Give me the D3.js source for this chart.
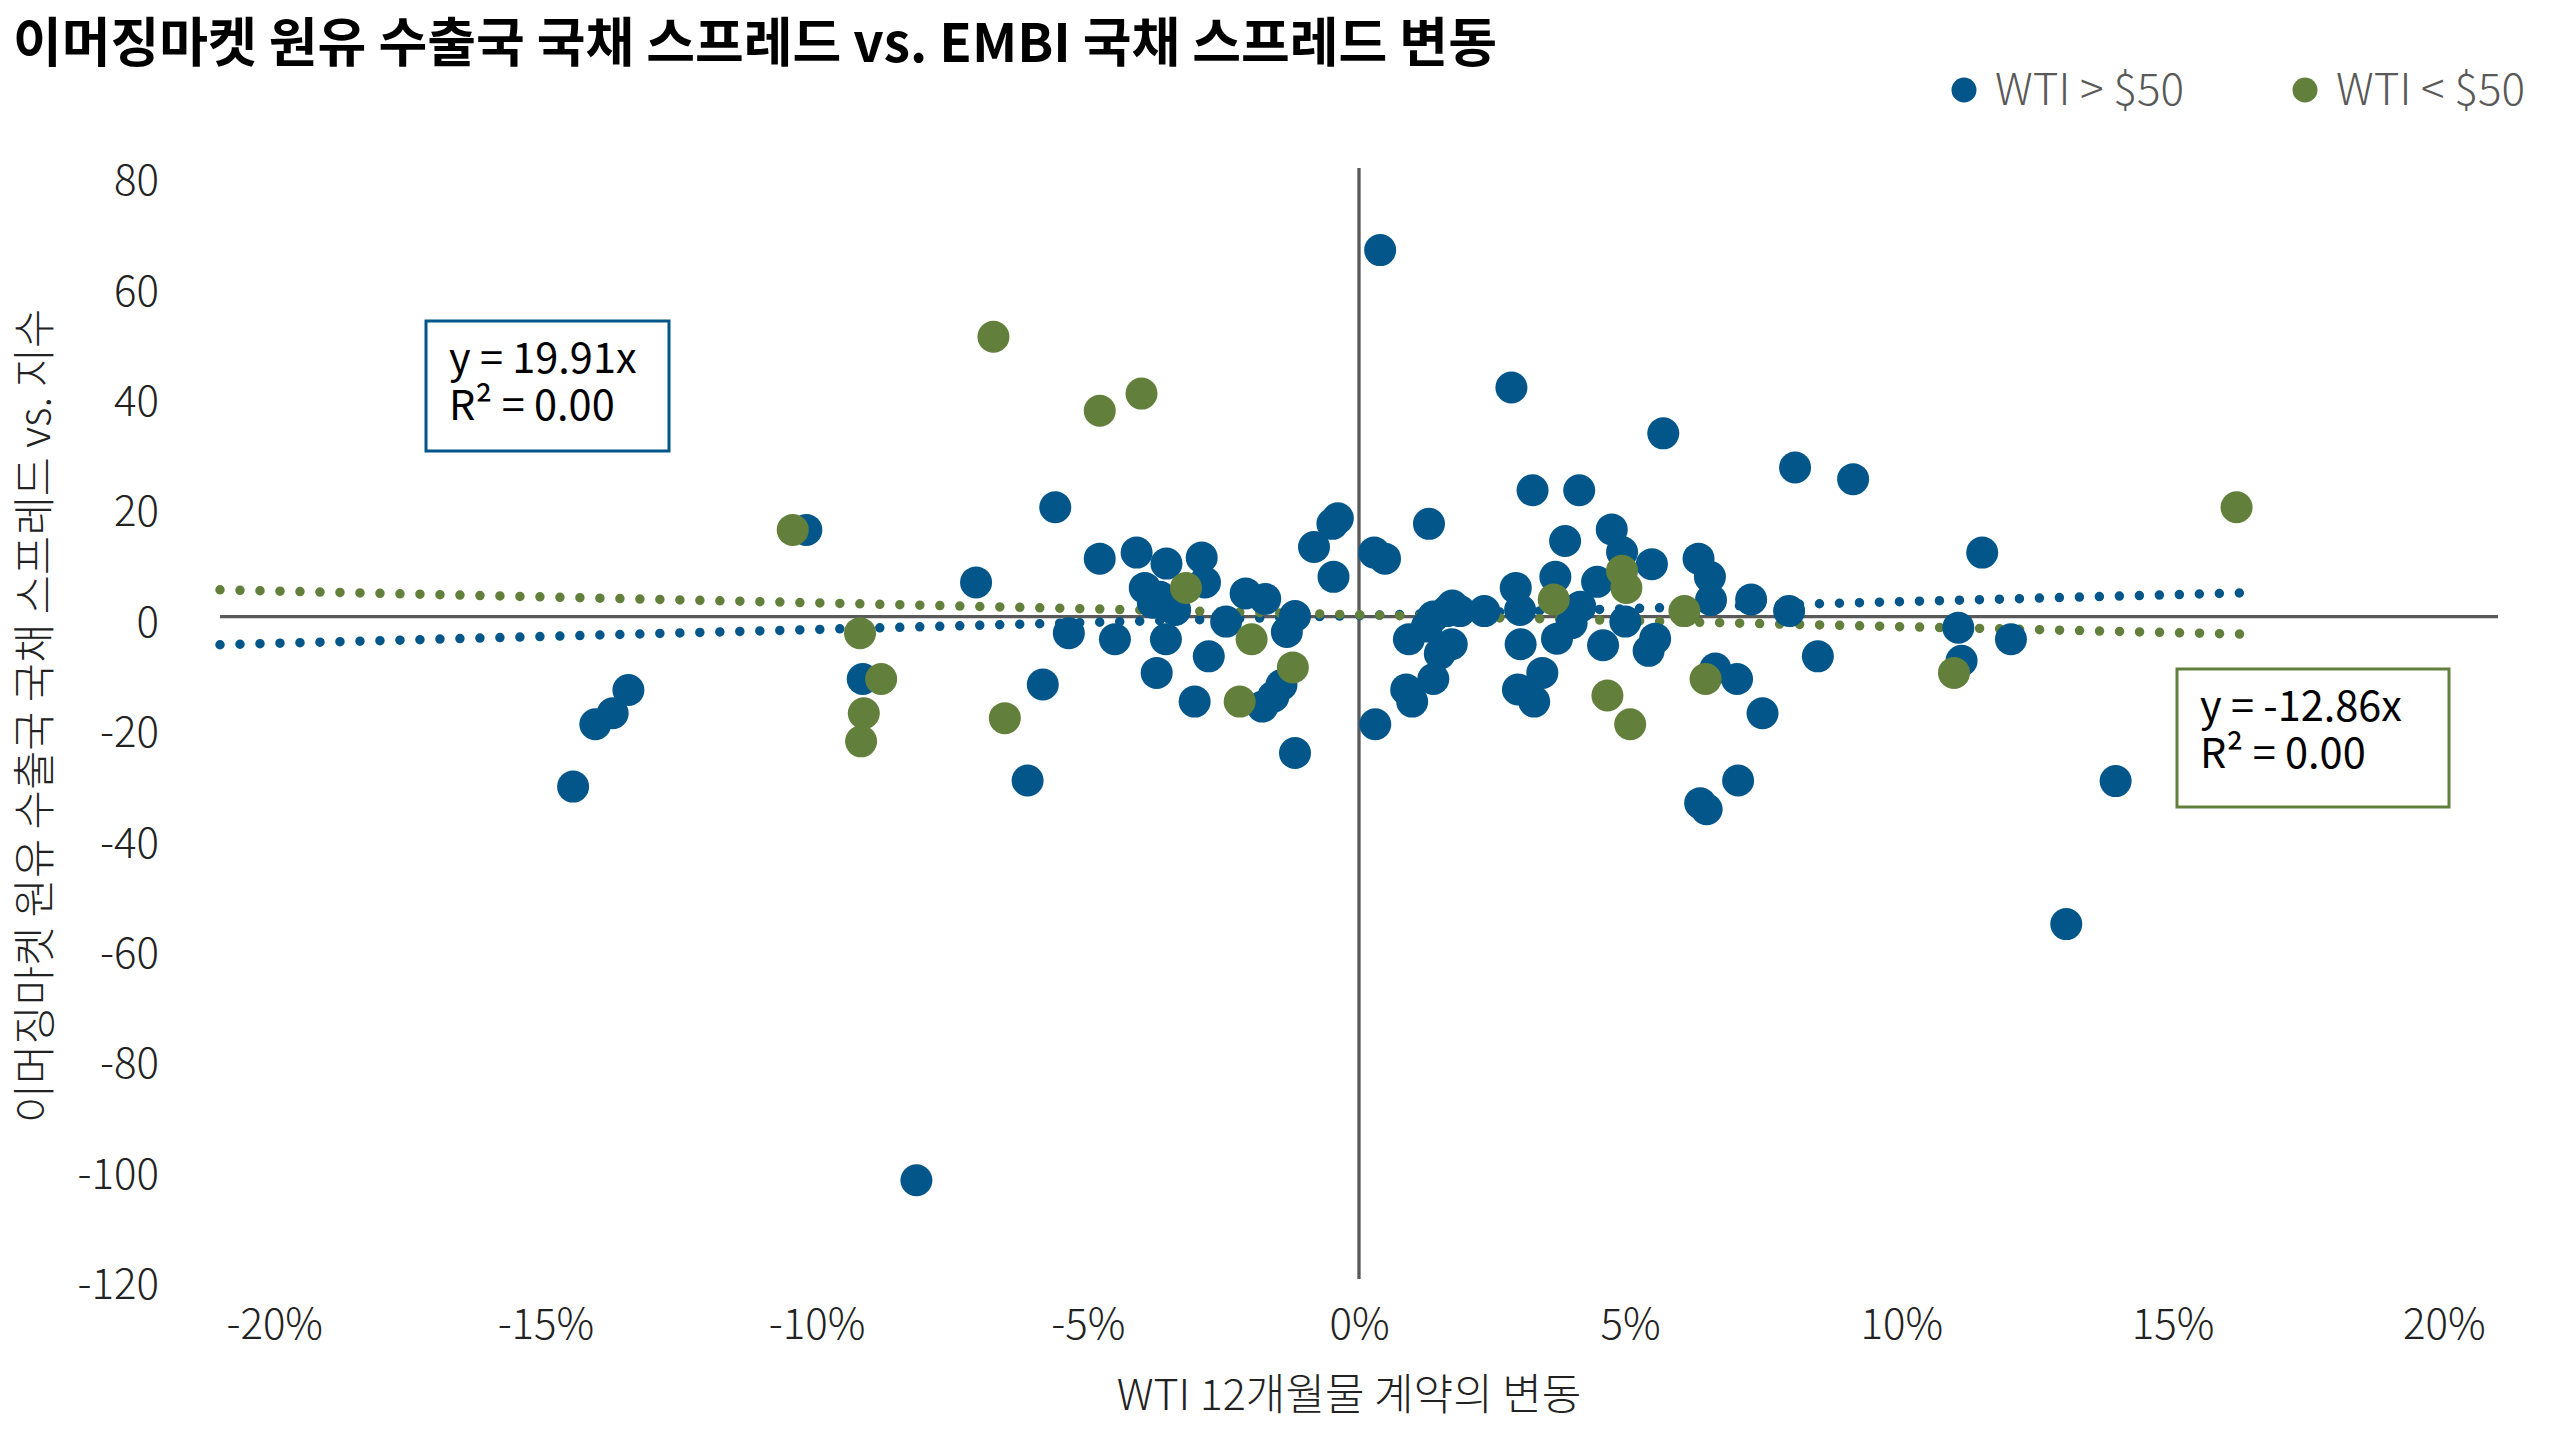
<!DOCTYPE html>
<html>
<head>
<meta charset="utf-8">
<script src="https://cdn.jsdelivr.net/npm/d3@7"></script>
<style>
  body { margin: 0; background: #fff; }
  svg { display: block; font-family: "Noto Sans CJK KR", "Noto Sans", sans-serif; }
</style>
</head>
<body>
<svg id="chart" width="2560" height="1440"></svg>
<script>
// WTI 12m change (%) vs spread change, WTI > $50
const bluePoints = [
  [-10.19, 15.7], [-5.6, 19.8], [-4.78, 10.5], [-4.10, 11.6], [-3.95, 5.2], [-7.06, 6.2],
  [-9.15, -11.3], [-5.35, -3.0], [-4.5, -4.1], [-5.83, -12.3], [-6.11, -29.7], [-3.73, -10.2],
  [3.20, 22.9], [4.06, 22.9], [1.29, 16.8], [3.80, 13.7], [-0.39, 17.8], [-0.49, 16.8],
  [-0.83, 12.6], [-0.47, 7.2], [0.28, 11.6], [0.48, 10.5], [-3.55, 9.6], [-2.9, 10.7],
  [-2.84, 6.2], [-3.67, 3.6], [-3.39, 1.2], [-3.8, 2.5], [-3.56, -4.1], [-2.77, -7.2],
  [-3.03, -15.4], [-2.09, 4.2], [-1.73, 3.2], [-2.45, -0.9], [-1.33, -2.8], [-1.18, 0.1],
  [-1.43, -12.4], [-1.58, -14.5], [-1.78, -16.3], [-1.18, -24.7], [0.3, -19.5], [0.87, -13.2],
  [0.98, -15.4], [1.37, -11.3], [1.49, -6.7], [1.71, -5.0], [0.92, -4.1], [1.25, -1.8],
  [1.37, 0.0], [1.62, 1.0], [1.86, 1.0], [1.72, 2.0], [2.31, 1.0], [2.89, 5.2],
  [2.97, 1.2], [3.62, 7.2], [2.98, -5.0], [3.65, -4.0], [3.92, -1.2], [4.08, 1.8],
  [3.38, -10.2], [2.93, -13.2], [3.23, -15.4], [4.39, 6.3], [4.5, -5.2], [8.04, 27.0],
  [9.11, 24.9], [11.49, 11.6], [4.66, 15.8], [4.85, 11.7], [5.40, 9.5], [6.26, 10.5],
  [6.47, 7.2], [6.49, 3.0], [7.23, 3.1], [7.93, 1.0], [4.91, -0.9], [5.46, -4.0],
  [5.34, -6.2], [8.46, -7.2], [6.57, -9.4], [6.97, -11.3], [7.44, -17.5], [6.99, -29.7],
  [6.29, -33.8], [6.41, -34.9], [11.05, -2.0], [11.11, -8.0], [12.02, -4.1], [13.95, -29.8],
  [13.04, -55.7], [-13.47, -13.3], [-13.76, -17.5], [-14.08, -19.5], [-14.49, -30.8],
  [-8.16, -102.1], [0.39, 66.4], [2.81, 41.5], [5.61, 33.2]
];

// WTI < $50
const greenPoints = [
  [-10.44, 15.7], [-9.2, -3.0], [-8.81, -11.3], [-9.13, -17.5], [-9.18, -22.6], [-6.53, -18.4],
  [-6.74, 50.7], [-4.78, 37.3], [-4.01, 40.4], [-3.19, 5.2], [-1.98, -4.1], [-1.22, -9.2],
  [-2.2, -15.4], [3.59, 3.1], [4.85, 8.3], [4.93, 5.2], [6.0, 1.0], [4.58, -14.3],
  [5.0, -19.5], [6.39, -11.3], [10.97, -10.2], [16.18, 19.8]
];

// trendline ends as drawn
const blueTrend = [[-21, -5.1], [16.32, 4.3]];
const greenTrend = [[-21, 4.85], [16.37, -3.2]];

const xTicks = [-20, -15, -10, -5, 0, 5, 10, 15, 20];
const yTicks = [80, 60, 40, 20, 0, -20, -40, -60, -80, -100, -120];

const BLUE = "#02568a";
const GREEN = "#62803b";
const AXIS = "#595959";

const svg = d3.select("#chart");

const x = d3.scaleLinear().domain([-21, 21]).range([220, 2498]);
const y = d3.scaleLinear().domain([-120, 80]).range([1279, 175]);

// title
svg.append("text")
  .attr("x", 13)
  .attr("y", 62)
  .attr("font-size", 53)
  .attr("font-weight", 700)
  .attr("fill", "#000")
  .text("이머징마켓 원유 수출국 국채 스프레드 vs. EMBI 국채 스프레드 변동");

// legend
const legend = [
  { label: "WTI > $50", color: BLUE, x: 1964 },
  { label: "WTI < $50", color: GREEN, x: 2305 }
];
const lg = svg.append("g").selectAll("g")
  .data(legend)
  .enter()
  .append("g")
  .attr("transform", d => `translate(${d.x}, 90)`);
lg.append("circle").attr("r", 12.5).attr("fill", d => d.color);
lg.append("text")
  .attr("x", 31)
  .attr("dy", "0.35em")
  .attr("font-size", 44)
  .attr("font-weight", 300)
  .attr("fill", AXIS)
  .text(d => d.label);

// axes (labels only)
const yAxis = svg.append("g")
  .attr("transform", `translate(${x(-21)},0)`)
  .call(d3.axisLeft(y).tickValues(yTicks).tickSize(0).tickPadding(61).tickFormat(d => String(d)));
const xAxis = svg.append("g")
  .attr("transform", `translate(0,${y(-120)})`)
  .call(d3.axisBottom(x).tickValues(xTicks).tickSize(0).tickPadding(30).tickFormat(d => d + "%"));
[yAxis, xAxis].forEach(g => {
  g.select(".domain").remove();
  g.selectAll("text")
    .attr("font-size", 42)
    .attr("font-weight", 300)
    .attr("fill", "#222")
    .attr("font-family", "\"Noto Sans CJK KR\", sans-serif");
});
yAxis.selectAll("text").attr("dy", "0.47em");

// zero lines
svg.append("line")
  .attr("x1", x(-21)).attr("x2", x(21))
  .attr("y1", y(0)).attr("y2", y(0))
  .attr("stroke", AXIS).attr("stroke-width", 3.3);
svg.append("line")
  .attr("x1", x(0)).attr("x2", x(0))
  .attr("y1", y(80) - 7).attr("y2", y(-120))
  .attr("stroke", AXIS).attr("stroke-width", 3.3);

// axis titles
svg.append("text")
  .attr("x", 1349)
  .attr("y", 1410)
  .attr("text-anchor", "middle")
  .attr("font-size", 43)
  .attr("font-weight", 300)
  .attr("fill", "#222")
  .text("WTI 12개월물 계약의 변동");
svg.append("text")
  .attr("transform", "translate(50,716) rotate(-90)")
  .attr("text-anchor", "middle")
  .attr("font-size", 42.7)
  .attr("font-weight", 300)
  .attr("fill", "#222")
  .text("이머징마켓 원유 수출국 국채 스프레드 vs. 지수");

// trendlines
const line = d3.line().x(d => x(d[0])).y(d => y(d[1]));
[[blueTrend, BLUE], [greenTrend, GREEN]].forEach(([t, c]) => {
  svg.append("path")
    .attr("d", line(t))
    .attr("fill", "none")
    .attr("stroke", c)
    .attr("stroke-width", 9.5)
    .attr("stroke-linecap", "round")
    .attr("stroke-dasharray", "0 20");
});

// points
svg.append("g").selectAll("circle")
  .data(bluePoints)
  .enter()
  .append("circle")
  .attr("cx", d => x(d[0]))
  .attr("cy", d => y(d[1]))
  .attr("r", 16)
  .attr("fill", BLUE);
svg.append("g").selectAll("circle")
  .data(greenPoints)
  .enter()
  .append("circle")
  .attr("cx", d => x(d[0]))
  .attr("cy", d => y(d[1]))
  .attr("r", 16)
  .attr("fill", GREEN);

// equation boxes
const boxes = [
  { x0: 426, y0: 321, w: 243, h: 130, color: BLUE, lines: ["y = 19.91x", "R² = 0.00"] },
  { x0: 2177, y0: 669, w: 272, h: 138, color: GREEN, lines: ["y = -12.86x", "R² = 0.00"] }
];
const bx = svg.append("g").selectAll("g")
  .data(boxes)
  .enter()
  .append("g")
  .attr("transform", d => `translate(${d.x0},${d.y0})`);
bx.append("rect")
  .attr("width", d => d.w)
  .attr("height", d => d.h)
  .attr("fill", "#fff")
  .attr("stroke", d => d.color)
  .attr("stroke-width", 3);
bx.append("text")
  .attr("font-size", 41.5)
  .attr("font-weight", 400)
  .attr("fill", "#000")
  .each(function(d) {
    d3.select(this).selectAll("tspan")
      .data(d.lines)
      .enter()
      .append("tspan")
      .attr("x", 23)
      .attr("y", (t, i) => 52 + i * 47)
      .text(t => t);
  });
</script>
</body>
</html>
